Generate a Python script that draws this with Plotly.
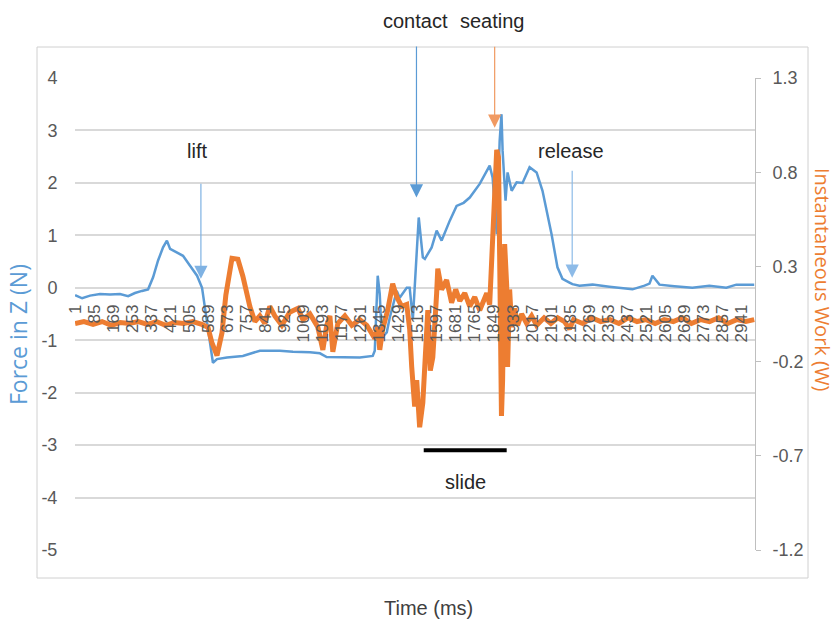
import plotly.graph_objects as go

# ---------------- data ----------------
time_force = [1, 32, 67, 111, 155, 199, 235, 265, 296, 323, 345, 367, 389, 406, 420, 450, 477,
              508, 539, 561, 574, 592, 609, 627, 671, 741, 816, 904, 962, 1037, 1081, 1111, 1191,
              1257, 1314, 1323, 1336, 1345, 1354, 1376, 1389, 1420, 1433, 1464, 1477, 1491, 1517,
              1535, 1544, 1574, 1596, 1618, 1654, 1684, 1715, 1742, 1786, 1830, 1843, 1861, 1874,
              1882, 1887, 1900, 1909, 1927, 1949, 1975, 2006, 2037, 2063, 2103, 2129, 2151, 2182,
              2195, 2226, 2284, 2358, 2460, 2513, 2535, 2548, 2579, 2645, 2724, 2799, 2874, 2918, 2997]
force_z = [-0.14, -0.2, -0.15, -0.12, -0.13, -0.12, -0.16, -0.10, -0.06, -0.03, 0.2, 0.52, 0.77, 0.9,
           0.74, 0.67, 0.61, 0.42, 0.23, 0.0, -0.38, -0.9, -1.43, -1.36, -1.33, -1.30, -1.20, -1.20,
           -1.22, -1.23, -1.25, -1.32, -1.33, -1.33, -1.30, -1.2, 0.23, -0.12, -0.95, -0.85, -0.57,
           -0.06, -0.19, 0.0, 0.0, -0.6, 1.34, 0.58, 0.55, 0.77, 1.09, 0.9, 1.28, 1.56, 1.62, 1.72,
           1.98, 2.33, 2.1, 1.02, 2.8, 3.31, 2.61, 1.66, 2.2, 1.85, 2.01, 2.0, 2.3, 2.2, 1.85, 1.02,
           0.39, 0.17, 0.1, 0.07, 0.04, 0.06, 0.02, -0.03, 0.04, 0.08, 0.23, 0.06, 0.03, 0.0, 0.04,
           0.0, 0.06, 0.06]

time_work = [1, 40, 80, 120, 160, 200, 240, 280, 320, 360, 400, 440, 480, 520, 560, 587, 604, 627,
             649, 666, 693, 719, 741, 772, 794, 816, 838, 860, 882, 913, 948, 984, 1006, 1037, 1072,
             1094, 1111, 1125, 1138, 1160, 1191, 1222, 1257, 1288, 1323, 1336, 1345, 1358, 1380,
             1402, 1420, 1442, 1464, 1477, 1486, 1491, 1499, 1508, 1521, 1535, 1552, 1557, 1568,
             1579, 1596, 1601, 1618, 1640, 1662, 1680, 1698, 1720, 1742, 1764, 1786, 1817, 1830,
             1839, 1852, 1861, 1869, 1874, 1882, 1887, 1896, 1905, 1909, 1918, 1927, 1940, 1953,
             1971, 1993, 2015, 2037, 2070, 2100, 2130, 2160, 2182, 2200, 2240, 2280, 2320, 2360,
             2400, 2440, 2480, 2520, 2560, 2600, 2640, 2680, 2720, 2760, 2800, 2840, 2880, 2920,
             2960, 2997]
work = [0.0, 0.01, -0.005, 0.01, -0.01, 0.005, 0.0, 0.01, -0.005, 0.01, -0.01, 0.005, 0.0, 0.01,
        -0.005, -0.02, -0.1, -0.17, -0.05, 0.15, 0.345, 0.34, 0.25, 0.09, 0.01, 0.04, 0.0, 0.09,
        0.04, -0.01, 0.06, 0.08, 0.02, 0.05, -0.02, -0.14, -0.01, 0.04, -0.15, 0.0, 0.04, -0.01,
        0.02, -0.01, -0.08, -0.02, -0.14, -0.03, 0.07, 0.21, 0.14, 0.09, 0.1, -0.03, -0.23, -0.32,
        -0.44, -0.3, -0.55, -0.42, -0.03, 0.07, -0.25, -0.18, 0.16, 0.29, 0.18, 0.23, 0.11, 0.18,
        0.12, 0.16, 0.09, 0.14, 0.07, 0.16, 0.1, 0.34, 0.6, 0.92, 0.88, 0.2, -0.49, -0.3, 0.42,
        0.2, -0.23, 0.18, -0.02, 0.08, -0.01, 0.05, 0.0, 0.04, -0.01, 0.03, 0.0, 0.03, 0.01, -0.03,
        0.02, 0.0, 0.03, 0.01, 0.02, 0.0, 0.03, 0.01, 0.02, 0.0, 0.02, 0.01, 0.03, 0.0, 0.02, 0.01,
        0.03, 0.0, 0.02, 0.01, 0.02]

x_tick_values = [1 + 84 * k for k in range(36)]
x_tick_labels = [str(v) for v in x_tick_values]
left_ticks = [4, 3, 2, 1, 0, -1, -2, -3, -4, -5]
left_tick_labels = ["4", "3", "2", "1", "0", "-1", "-2", "-3", "-4", "-5"]
right_ticks = [1.3, 0.8, 0.3, -0.2, -0.7, -1.2]
right_tick_labels = ["1.3", "0.8", "0.3", "-0.2", "-0.7", "-1.2"]

# annotation anchor points (time, force)
lift_tip = (556, 0.17)
contact_tip = (1507, 1.72)
seating_tip = (1852, 3.05)
release_tip = (2194, 0.19)
slide_span = (1539, 1905, -3.10)

BLUE = "#5b9bd5"
ORANGE = "#ed7d31"
GRAY = "#595959"
SANS = "Liberation Sans, Arial"

fig = go.Figure()
fig.add_trace(go.Scatter(x=time_force, y=force_z, mode="lines",
                         line=dict(color=BLUE, width=2.5), yaxis="y", name="Force"))
fig.add_trace(go.Scatter(x=time_work, y=work, mode="lines",
                         line=dict(color=ORANGE, width=5), yaxis="y2", name="Work"))

fig.update_layout(
    width=837, height=629,
    margin=dict(l=75, r=82, t=78, b=79),
    paper_bgcolor="white", plot_bgcolor="white",
    showlegend=False,
    xaxis=dict(range=[0.5, 3000.5], tickvals=x_tick_values, ticktext=x_tick_labels,
               tickangle=-90, anchor="free", position=5 / 9, showgrid=False, zeroline=False,
               showline=False, ticks="outside", ticklen=9, tickcolor="rgba(0,0,0,0)",
               tickfont=dict(family=SANS, size=17, color=GRAY)),
    yaxis=dict(range=[-5, 4], tickvals=left_ticks, ticktext=left_tick_labels,
               showgrid=True, gridcolor="#d9d9d9", gridwidth=1.5, zeroline=False,
               showline=False, ticks="outside", ticklen=13, tickcolor="rgba(0,0,0,0)",
               tickfont=dict(family=SANS, size=18, color=GRAY)),
    yaxis2=dict(range=[-1.2, 1.3], overlaying="y", side="right", tickvals=right_ticks,
                ticktext=right_tick_labels, showgrid=False, zeroline=False, showline=True,
                linecolor="#bfbfbf", linewidth=1, ticks="outside", ticklen=5,
                tickcolor="#bfbfbf", ticklabelstandoff=8,
                tickfont=dict(family=SANS, size=18, color=GRAY)),
)

# chart frame
fig.add_shape(type="rect", xref="paper", yref="paper",
              x0=(37 - 75) / 680, x1=(808 - 75) / 680, y0=(550 - 578) / 472, y1=(550 - 47) / 472,
              line=dict(color="#d0d0d0", width=1), fillcolor="rgba(0,0,0,0)", layer="below")

# slide bar
fig.add_shape(type="line", xref="x", yref="y", x0=slide_span[0], x1=slide_span[1],
              y0=slide_span[2], y1=slide_span[2], line=dict(color="black", width=4))

txt_font = dict(family=SANS, size=20, color="#262626")


def label(x, y, text, xref="x", yref="y", font=txt_font, angle=0):
    return dict(x=x, y=y, xref=xref, yref=yref, text=text, showarrow=False, font=font,
                xanchor="center", yanchor="middle", textangle=angle)


ann = [
    label(539, 2.61, "lift"),
    label(2187, 2.61, "release"),
    label(1724, -3.70, "slide"),
    label((415 - 75) / 680, (550 - 21) / 472, "contact", "paper", "paper"),
    label((492 - 75) / 680, (550 - 21) / 472, "seating", "paper", "paper"),
    label((428 - 75) / 680, (550 - 608) / 472, "Time (ms)", "paper", "paper",
          dict(family=SANS, size=20, color="#404040")),
    label((18 - 75) / 680, (550 - 335) / 472, "Force in Z (N)", "paper", "paper",
          dict(family="Open Sans", size=23, color=BLUE), -90),
    label((823 - 75) / 680, (550 - 279) / 472, "Instantaneous Work (W)", "paper", "paper",
          dict(family="Open Sans", size=20, color=ORANGE), 90),
]


def arrow(tip, ay, color):
    return dict(x=tip[0], y=tip[1], xref="x", yref="y", text=" ", showarrow=True,
                ax=0, ay=ay, arrowhead=2, arrowsize=2.2, arrowwidth=1.2,
                arrowcolor=color, font=dict(size=2))


ann.append(arrow(lift_tip, -98, "#7fb2e3"))
ann.append(arrow(contact_tip, -154, BLUE))
ann.append(arrow(seating_tip, -84, "#f19a62"))
ann.append(arrow(release_tip, -110, "#8dbbe8"))

fig.update_layout(annotations=ann)
fig.write_html("out.html")
